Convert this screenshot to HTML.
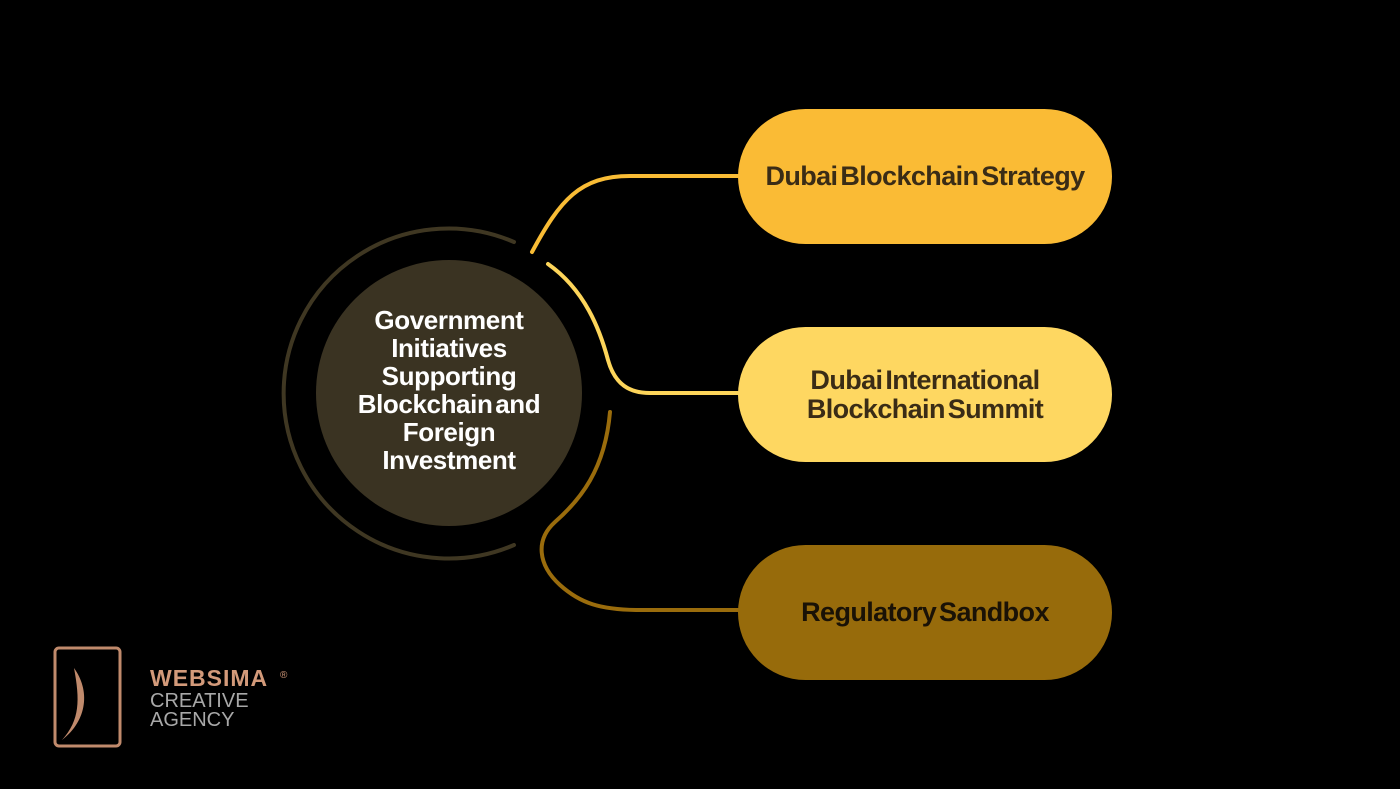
<!DOCTYPE html>
<html><head><style>
body{margin:0;width:1400px;height:789px;background:#000;overflow:hidden;font-family:"Liberation Sans",sans-serif;position:relative}
.pill{position:absolute;left:738px;width:374px;height:135px;border-radius:68px;display:flex;align-items:center;justify-content:center;text-align:center;font-size:27px;font-weight:bold;color:#3a2c16;line-height:29px;letter-spacing:-0.6px;word-spacing:-4px}
</style></head><body>
<svg width="1400" height="789" style="position:absolute;left:0;top:0">
<circle cx="449" cy="393" r="133" fill="#3a3322"/>
<path d="M514 242 A165 165 0 1 0 514 545" fill="none" stroke="#3f3722" stroke-width="4" stroke-linecap="round"/>
<path d="M532 252 C560 200 580 176 630 176 L740 176" fill="none" stroke="#f9bc35" stroke-width="4" stroke-linecap="round"/>
<path d="M548 264 C585 290 600 330 608 360 C615 385 630 393 650 393 L740 393" fill="none" stroke="#fdd55a" stroke-width="4" stroke-linecap="round"/>
<path d="M610 412 C605 470 580 500 555 522 C535 540 538 565 560 585 C580 603 600 610 640 610 L740 610" fill="none" stroke="#9a6c0c" stroke-width="4" stroke-linecap="round"/>
<rect x="55" y="648" width="65" height="98" rx="4" fill="none" stroke="#c08a6c" stroke-width="3"/>
<path d="M74 668 C90 690 88 720 62 740 C80 720 80 700 74 668Z" fill="#c08a6c"/>
<text x="150" y="686" fill="#d39a7a" font-size="23" font-weight="bold" font-family="Liberation Sans" letter-spacing="1">WEBSIMA</text>
<text x="280" y="678" fill="#d39a7a" font-size="10">®</text>
<text x="150" y="707" fill="#a8a8a8" font-size="20">CREATIVE</text>
<text x="150" y="726" fill="#a8a8a8" font-size="20">AGENCY</text>
</svg>
<div style="position:absolute;left:296px;top:306px;width:306px;text-align:center;color:#fff;font-size:26px;font-weight:bold;line-height:28px;letter-spacing:-0.4px;word-spacing:-4px">Government<br>Initiatives<br>Supporting<br>Blockchain and<br>Foreign<br>Investment</div>
<div class="pill" style="top:109px;background:#fabb35">Dubai Blockchain Strategy</div>
<div class="pill" style="top:327px;background:#fed761">Dubai International<br>Blockchain Summit</div>
<div class="pill" style="top:545px;background:#976b0b;color:#1a1206">Regulatory Sandbox</div>
</body></html>
